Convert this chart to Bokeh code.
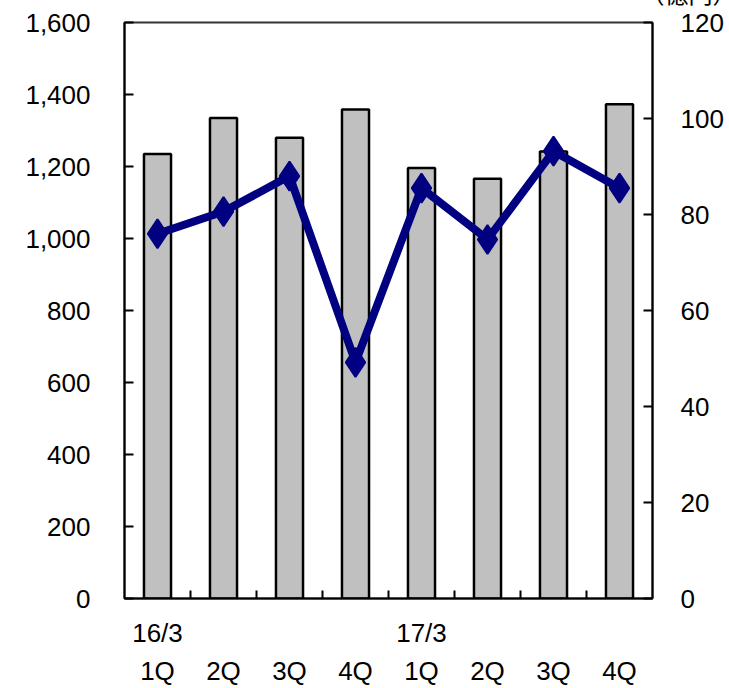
from bokeh.plotting import figure
from bokeh.models import Range1d, LinearAxis, FixedTicker, NumeralTickFormatter, ColumnDataSource
from bokeh.embed import file_html
from bokeh.resources import INLINE

# Quarterly data: bars on the left axis, line on the right axis
quarters = ["1Q", "2Q", "3Q", "4Q", "1Q", "2Q", "3Q", "4Q"]
period_labels = ["16/3", "17/3"]
period_start_index = [0, 4]
bar_values = [1235, 1335, 1280, 1358, 1196, 1166, 1242, 1373]
line_values = [76.0, 80.6, 88.0, 49.2, 85.5, 74.8, 93.2, 85.5]
left_ticks = [0, 200, 400, 600, 800, 1000, 1200, 1400, 1600]
right_ticks = [0, 20, 40, 60, 80, 100, 120]
unit_text = "（億円）"

FONT = "Liberation Sans"
xs = list(range(len(quarters)))
src = ColumnDataSource(dict(x=xs, bar=bar_values, line=line_values))

p = figure(width=729, height=688, output_backend="svg", toolbar_location=None,
           x_range=Range1d(-0.5, len(quarters) - 0.5), y_range=Range1d(0, 1600),
           min_border_left=124, min_border_right=77, min_border_top=22, min_border_bottom=88)
p.extra_y_ranges = {"right": Range1d(0, 120)}
p.grid.visible = False
p.background_fill_color = "white"
p.border_fill_color = "white"
p.outline_line_color = "#333333"
p.outline_line_width = 2

# Unit caption in the top-right corner, running past the page's upper edge
p.title.text = unit_text
p.title.align = "right"
p.title.vertical_align = "top"
p.title.offset = -84
p.title.standoff = -96
p.title.text_font = "Noto Sans CJK JP"
p.title.text_font_size = "24px"
p.title.text_font_style = "normal"
p.title.text_color = "black"

# Bars
p.vbar(x="x", top="bar", bottom=0, width=0.41, source=src,
       fill_color="#c0c0c0", line_color="black", line_width=2.5)

# Line with diamond markers
p.line(x="x", y="line", source=src, y_range_name="right",
       line_color="#000080", line_width=8, line_join="miter")
p.scatter(x="x", y="line", source=src, y_range_name="right", marker="diamond",
          size=29, fill_color="#000080", line_color="#000080", line_width=2)

# Left axis
yl = p.yaxis[0]
yl.ticker = FixedTicker(ticks=left_ticks)
yl.formatter = NumeralTickFormatter(format="0,0")
yl.major_tick_in = 9
yl.major_tick_out = 0
yl.minor_tick_line_color = None
yl.major_label_standoff = 34
yl.axis_line_color = "black"
yl.axis_line_width = 2
yl.major_tick_line_width = 2
yl.major_label_text_font = FONT
yl.major_label_text_font_size = "26px"
yl.major_label_text_color = "black"

# Right axis
yr = LinearAxis(y_range_name="right", ticker=FixedTicker(ticks=right_ticks))
yr.major_tick_in = 9
yr.major_tick_out = 0
yr.minor_tick_line_color = None
yr.major_label_standoff = 28
yr.axis_line_color = "black"
yr.axis_line_width = 2
yr.major_tick_line_width = 2
yr.major_label_text_font = FONT
yr.major_label_text_font_size = "26px"
yr.major_label_text_color = "black"
p.add_layout(yr, "right")

# Bottom axis: fiscal-year labels and small inner ticks between categories
xa = p.xaxis[0]
xa.ticker = FixedTicker(ticks=period_start_index, minor_ticks=[i + 0.5 for i in xs[:-1]])
xa.major_label_overrides = {i: lab for i, lab in zip(period_start_index, period_labels)}
xa.major_tick_in = 0
xa.major_tick_out = 0
xa.minor_tick_in = 8
xa.minor_tick_out = 0
xa.minor_tick_line_width = 2
xa.minor_tick_line_color = "black"
xa.axis_line_color = "black"
xa.axis_line_width = 2
xa.major_label_standoff = 19
xa.major_label_text_font = FONT
xa.major_label_text_font_size = "26px"
xa.major_label_text_color = "black"

# Second row below: quarter labels
xq = LinearAxis(ticker=FixedTicker(ticks=xs))
xq.major_label_overrides = {i: q for i, q in enumerate(quarters)}
xq.axis_line_color = None
xq.major_tick_line_color = None
xq.minor_tick_line_color = None
xq.major_label_standoff = -1
xq.major_label_text_font = FONT
xq.major_label_text_font_size = "26px"
xq.major_label_text_color = "black"
p.add_layout(xq, "below")

open("out.html", "w").write(file_html(p, INLINE))
